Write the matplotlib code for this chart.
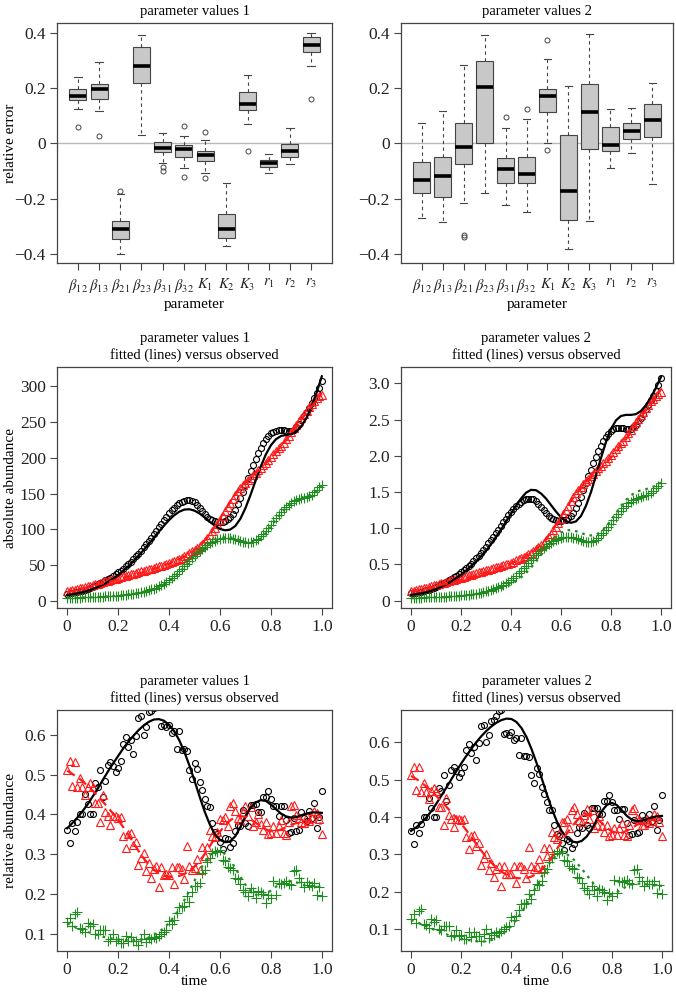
import numpy as np
import matplotlib.pyplot as plt

plt.rcParams['font.family'] = ['Liberation Serif', 'DejaVu Serif']
plt.rcParams['mathtext.fontset'] = 'stix'

# ---------------- boxplot data (relative error of parameter estimates) ----------------
param_labels = [r'$\beta_{12}$', r'$\beta_{13}$', r'$\beta_{21}$', r'$\beta_{23}$',
                r'$\beta_{31}$', r'$\beta_{32}$', r'$K_1$', r'$K_2$', r'$K_3$',
                r'$r_1$', r'$r_2$', r'$r_3$']

p1_q1 = [0.156, 0.159, -0.346, 0.220, -0.031, -0.050, -0.065, -0.340, 0.120, -0.084, -0.049, 0.332]
p1_med = [0.172, 0.198, -0.310, 0.280, -0.017, -0.020, -0.043, -0.310, 0.143, -0.071, -0.026, 0.357]
p1_q3 = [0.195, 0.214, -0.280, 0.348, 0.006, -0.007, -0.026, -0.256, 0.186, -0.059, -0.002, 0.384]
p1_lo = [0.123, 0.117, -0.400, 0.032, -0.072, -0.090, -0.106, -0.369, 0.070, -0.107, -0.074, 0.280]
p1_hi = [0.240, 0.294, -0.183, 0.392, 0.036, 0.026, 0.013, -0.143, 0.247, -0.037, 0.055, 0.399]
p1_out = [[0.059], [0.025], [-0.171], [], [-0.084, -0.098], [0.064, -0.123],
          [0.040, -0.125], [], [-0.026], [], [], [0.159]]

p2_q1 = [-0.178, -0.195, -0.074, 0.002, -0.142, -0.144, 0.113, -0.277, -0.019, -0.028, 0.016, 0.023]
p2_med = [-0.132, -0.118, -0.013, 0.204, -0.092, -0.111, 0.171, -0.171, 0.114, -0.005, 0.044, 0.085]
p2_q3 = [-0.067, -0.050, 0.072, 0.298, -0.053, -0.050, 0.198, 0.032, 0.213, 0.059, 0.072, 0.144]
p2_lo = [-0.271, -0.283, -0.217, -0.178, -0.222, -0.249, 0.002, -0.382, -0.279, -0.088, -0.035, -0.147]
p2_hi = [0.074, 0.117, 0.282, 0.393, 0.054, 0.088, 0.306, 0.209, 0.396, 0.126, 0.129, 0.220]
p2_out = [[], [], [-0.332, -0.339], [], [0.096], [0.125], [0.374, -0.023], [], [], [], [], []]

# ---------------- time series ----------------
t_obs = np.round(np.arange(101) * 0.01, 2)
t_fit = np.round(np.arange(51) * 0.02, 2)

# observed absolute abundance (parameter values 1 scale; panel 2 is the same data / 100)
abs_obs_black = [10, 10.5, 11, 11.7, 12.4, 13.2, 14.2, 15.3, 16.5, 17.9, 19.4, 21, 22.7, 24.5, 26.4,
                 28.3, 30.3, 32.4, 34.6, 37, 39.5, 42.2, 45, 48, 51.3, 54.7, 58.3, 62, 66, 70.2,
                 74.5, 79, 83.5, 88.2, 93, 98, 103, 108, 113, 117.8, 122.3, 126.5, 130.2, 133.5,
                 136.3, 138.5, 140, 140.8, 140.8, 139.8, 137.5, 134, 129.5, 125, 121, 117.5, 114.8,
                 112.8, 111.3, 110.5, 110.3, 110.8, 112, 114, 117, 121.5, 127.5, 135, 143.5, 152.5,
                 162, 171.5, 181, 190, 198.5, 206.5, 214, 220.5, 226, 230.5, 234, 236.5, 238, 238.8,
                 239, 238.5, 237.5, 237, 237.5, 239.5, 243, 247.5, 252.5, 258, 264, 270, 276.5, 283,
                 290, 298, 308]
abs_obs_red = [13, 14, 14.8, 15.6, 16.4, 17.3, 18.2, 19.1, 20, 21, 22, 23, 24, 25, 26, 27, 28, 29,
               30, 31, 32, 33, 34, 35, 36, 37, 38, 39, 40, 41, 42, 43, 44, 45, 46, 47, 48, 49, 50,
               51.2, 52.5, 54, 55.5, 57, 58.5, 60, 62, 64, 66.5, 69, 71.5, 74, 77, 80, 83.5, 87.5,
               92, 97, 102, 107.5, 113, 119, 125, 131, 137, 142.5, 148, 153, 157.5, 161.5, 165,
               168.5, 172, 175.5, 179, 182.5, 186, 189.5, 193, 197, 201, 205, 209, 213, 217, 221,
               226, 231, 236, 241, 246, 251, 256, 261, 266, 270.5, 275, 279, 283, 286, 288]
abs_obs_green = [4, 4, 4.1, 4.2, 4.3, 4.4, 4.5, 4.6, 4.7, 4.8, 5, 5.1, 5.3, 5.5, 5.7, 5.9, 6.1, 6.3,
                 6.6, 6.9, 7.2, 7.5, 7.9, 8.3, 8.8, 9.3, 9.9, 10.5, 11.2, 12, 12.8, 13.7, 14.7, 15.8,
                 17, 18.4, 20, 21.8, 23.8, 26, 28.5, 31.3, 34.3, 37.6, 41, 44.6, 48.3, 52, 55.7,
                 59.3, 62.8, 66.2, 69.4, 72.4, 75.2, 77.8, 80.2, 82.3, 84.2, 85.8, 87, 87.8, 88.2,
                 88.2, 87.8, 87, 86, 84.8, 83.5, 82.3, 81.5, 81.2, 81.5, 82.5, 84.3, 86.8, 90, 93.7,
                 97.8, 102, 106.5, 111, 115.5, 120, 124, 127.8, 131.2, 134.2, 136.8, 139, 140.8,
                 142.2, 143.3, 144.3, 145.3, 146.5, 148.5, 151.5, 155, 158.5, 162]
abs_scale = [1.0, 0.01]

# fitted absolute abundance
abs_fit1_black = [8, 9, 10.2, 11.8, 13.8, 16.2, 19, 22.3, 26.2, 30.7, 36, 41.8, 48.2, 55.2, 62.8,
                  70.8, 79.2, 87.8, 96.5, 105, 112.8, 119.5, 124.5, 127.5, 128, 126, 122, 116.5,
                  110.5, 105, 100.5, 98.5, 99.5, 104.5, 114.5, 129.5, 148, 168, 187.5, 204.5, 217.5,
                  226, 230.5, 232, 233, 236.5, 244, 256, 272, 291.5, 314]
abs_fit1_red = [12, 13.6, 15.3, 17, 18.8, 20.6, 22.4, 24.2, 26, 27.8, 29.7, 31.6, 33.6, 35.6, 37.7,
                39.8, 42, 44.3, 46.7, 49.2, 51.9, 54.8, 58, 61.6, 65.8, 70.8, 77, 84.5, 93.5, 104,
                115, 127, 138.5, 149, 158, 165.5, 172, 178.5, 185, 192, 199.5, 207.5, 216, 225,
                234.5, 244, 253.5, 263, 272, 280.5, 290]
abs_fit1_green = [3.8, 4, 4.2, 4.4, 4.6, 4.9, 5.2, 5.6, 6, 6.5, 7.1, 7.8, 8.7, 9.7, 11, 12.5, 14.4,
                  16.8, 19.8, 23.5, 28, 33.5, 40, 47, 54.5, 61.5, 68, 74, 79.5, 84, 87.3, 89, 88.8,
                  87, 84.3, 82, 81.3, 83, 87.5, 94.5, 103.5, 113, 122.5, 130.5, 137, 141.5, 144.3,
                  146, 148.5, 153, 160]
abs_fit2_black = [0.08, 0.09, 0.10, 0.115, 0.135, 0.16, 0.19, 0.225, 0.265, 0.31, 0.36, 0.415,
                  0.475, 0.54, 0.61, 0.69, 0.78, 0.88, 0.98, 1.09, 1.20, 1.31, 1.41, 1.49, 1.53,
                  1.525, 1.48, 1.41, 1.32, 1.23, 1.15, 1.095, 1.075, 1.095, 1.17, 1.31, 1.50, 1.73,
                  1.97, 2.19, 2.37, 2.49, 2.55, 2.565, 2.565, 2.575, 2.62, 2.70, 2.81, 2.94, 3.09]
abs_fit2_red = [0.13, 0.142, 0.155, 0.17, 0.185, 0.20, 0.217, 0.234, 0.251, 0.268, 0.286, 0.305,
                0.325, 0.346, 0.367, 0.389, 0.412, 0.436, 0.461, 0.487, 0.515, 0.545, 0.578, 0.615,
                0.658, 0.71, 0.775, 0.855, 0.95, 1.055, 1.165, 1.275, 1.38, 1.475, 1.56, 1.635, 1.70,
                1.765, 1.83, 1.90, 1.975, 2.055, 2.14, 2.23, 2.33, 2.43, 2.53, 2.63, 2.72, 2.82, 2.92]
abs_fit2_green = [0.035, 0.037, 0.039, 0.041, 0.043, 0.045, 0.048, 0.051, 0.055, 0.06, 0.065, 0.071,
                  0.078, 0.086, 0.096, 0.108, 0.122, 0.14, 0.162, 0.19, 0.225, 0.268, 0.32, 0.382,
                  0.455, 0.54, 0.632, 0.725, 0.81, 0.885, 0.94, 0.97, 0.975, 0.96, 0.935, 0.91, 0.9,
                  0.91, 0.95, 1.02, 1.11, 1.21, 1.31, 1.39, 1.455, 1.5, 1.525, 1.54, 1.56, 1.59, 1.63]

# observed relative abundance (same data in both bottom panels)
rel_obs_black = [0.362, 0.327, 0.379, 0.357, 0.381, 0.400, 0.401, 0.452, 0.425, 0.401, 0.401, 0.478,
                 0.470, 0.512, 0.443, 0.485, 0.525, 0.533, 0.522, 0.506, 0.517, 0.535, 0.578, 0.594,
                 0.570, 0.588, 0.552, 0.597, 0.642, 0.647, 0.601, 0.620, 0.657, 0.660, 0.669, 0.684,
                 0.685, 0.623, 0.625, 0.619, 0.626, 0.606, 0.611, 0.565, 0.610, 0.563, 0.564, 0.560,
                 0.513, 0.490, 0.530, 0.514, 0.481, 0.462, 0.440, 0.420, 0.419, 0.378, 0.355, 0.350,
                 0.331, 0.313, 0.340, 0.337, 0.318, 0.328, 0.358, 0.374, 0.371, 0.410, 0.378, 0.372,
                 0.424, 0.424, 0.425, 0.407, 0.407, 0.444, 0.444, 0.458, 0.440, 0.420, 0.420, 0.395,
                 0.422, 0.422, 0.385, 0.352, 0.355, 0.391, 0.357, 0.360, 0.405, 0.392, 0.383, 0.408,
                 0.390, 0.430, 0.366, 0.393, 0.458]
rel_obs_red = [0.512, 0.535, 0.472, 0.533, 0.468, 0.492, 0.468, 0.449, 0.470, 0.478, 0.470, 0.428,
               0.428, 0.380, 0.450, 0.405, 0.395, 0.373, 0.395, 0.396, 0.392, 0.394, 0.346, 0.315,
               0.350, 0.352, 0.322, 0.330, 0.272, 0.290, 0.302, 0.258, 0.278, 0.239, 0.262, 0.270,
               0.217, 0.268, 0.247, 0.249, 0.247, 0.268, 0.225, 0.268, 0.268, 0.262, 0.238, 0.320,
               0.270, 0.260, 0.266, 0.287, 0.260, 0.318, 0.296, 0.318, 0.360, 0.346, 0.342, 0.356,
               0.388, 0.386, 0.394, 0.372, 0.420, 0.428, 0.408, 0.392, 0.386, 0.405, 0.422, 0.395,
               0.418, 0.372, 0.380, 0.402, 0.375, 0.360, 0.380, 0.350, 0.352, 0.372, 0.352, 0.370,
               0.385, 0.352, 0.348, 0.380, 0.420, 0.423, 0.398, 0.392, 0.380, 0.378, 0.395, 0.384,
               0.390, 0.408, 0.403, 0.388, 0.350]
rel_obs_green = [0.128, 0.140, 0.118, 0.148, 0.153, 0.115, 0.112, 0.103, 0.127, 0.120, 0.125, 0.100,
                 0.098, 0.108, 0.110, 0.108, 0.082, 0.085, 0.098, 0.082, 0.085, 0.075, 0.075, 0.093,
                 0.080, 0.092, 0.082, 0.082, 0.070, 0.087, 0.100, 0.078, 0.090, 0.085, 0.092, 0.090,
                 0.095, 0.100, 0.105, 0.108, 0.132, 0.125, 0.135, 0.152, 0.167, 0.167, 0.170, 0.194,
                 0.180, 0.205, 0.220, 0.219, 0.228, 0.252, 0.260, 0.281, 0.290, 0.302, 0.308, 0.305,
                 0.310, 0.285, 0.283, 0.268, 0.265, 0.260, 0.240, 0.238, 0.225, 0.210, 0.205, 0.195,
                 0.215, 0.205, 0.190, 0.208, 0.205, 0.200, 0.178, 0.198, 0.190, 0.232, 0.198, 0.228,
                 0.226, 0.228, 0.232, 0.225, 0.222, 0.258, 0.260, 0.240, 0.230, 0.216, 0.230, 0.222,
                 0.220, 0.228, 0.198, 0.218, 0.195]

# fitted relative abundance
rel_fit1_black = [0.365, 0.378, 0.392, 0.408, 0.425, 0.445, 0.465, 0.487, 0.508, 0.528, 0.547,
                  0.566, 0.583, 0.598, 0.612, 0.624, 0.633, 0.639, 0.640, 0.636, 0.626, 0.610,
                  0.587, 0.558, 0.523, 0.485, 0.445, 0.407, 0.375, 0.350, 0.336, 0.330, 0.332,
                  0.345, 0.368, 0.395, 0.417, 0.430, 0.436, 0.434, 0.425, 0.413, 0.402, 0.395,
                  0.392, 0.393, 0.398, 0.402, 0.405, 0.405, 0.404]
rel_fit1_red = [0.510, 0.502, 0.494, 0.484, 0.472, 0.460, 0.446, 0.432, 0.418, 0.402, 0.386, 0.368,
                0.349, 0.329, 0.308, 0.290, 0.274, 0.261, 0.251, 0.245, 0.243, 0.243, 0.245, 0.250,
                0.258, 0.269, 0.283, 0.300, 0.320, 0.340, 0.357, 0.372, 0.385, 0.393, 0.396, 0.394,
                0.388, 0.379, 0.370, 0.362, 0.358, 0.358, 0.362, 0.368, 0.374, 0.378, 0.380, 0.380,
                0.379, 0.378, 0.377]
rel_fit1_green = [0.125, 0.120, 0.114, 0.109, 0.104, 0.100, 0.096, 0.092, 0.089, 0.087, 0.085,
                  0.084, 0.083, 0.083, 0.084, 0.086, 0.090, 0.096, 0.104, 0.114, 0.127, 0.143,
                  0.162, 0.184, 0.208, 0.233, 0.258, 0.280, 0.297, 0.307, 0.308, 0.300, 0.285,
                  0.265, 0.243, 0.223, 0.207, 0.198, 0.195, 0.199, 0.208, 0.218, 0.226, 0.231,
                  0.232, 0.229, 0.224, 0.219, 0.217, 0.217, 0.219]
rel_fit2_black = [0.363, 0.372, 0.384, 0.398, 0.415, 0.435, 0.456, 0.478, 0.500, 0.522, 0.543,
                  0.563, 0.582, 0.600, 0.616, 0.630, 0.642, 0.652, 0.659, 0.663, 0.662, 0.654,
                  0.638, 0.614, 0.582, 0.545, 0.505, 0.463, 0.424, 0.390, 0.363, 0.345, 0.335,
                  0.332, 0.336, 0.348, 0.367, 0.392, 0.416, 0.432, 0.438, 0.432, 0.418, 0.403,
                  0.393, 0.389, 0.390, 0.394, 0.399, 0.402, 0.403]
rel_fit2_red = [0.510, 0.502, 0.493, 0.482, 0.470, 0.457, 0.443, 0.428, 0.413, 0.398, 0.382, 0.365,
                0.347, 0.328, 0.310, 0.293, 0.278, 0.265, 0.254, 0.246, 0.240, 0.237, 0.236, 0.237,
                0.241, 0.248, 0.259, 0.274, 0.292, 0.313, 0.334, 0.355, 0.374, 0.390, 0.401, 0.406,
                0.404, 0.396, 0.384, 0.371, 0.362, 0.357, 0.358, 0.363, 0.371, 0.379, 0.386, 0.390,
                0.392, 0.391, 0.389]
rel_fit2_green = [0.125, 0.120, 0.114, 0.108, 0.102, 0.097, 0.092, 0.087, 0.082, 0.078, 0.075,
                  0.072, 0.070, 0.068, 0.067, 0.068, 0.071, 0.077, 0.086, 0.097, 0.110, 0.126,
                  0.145, 0.167, 0.191, 0.216, 0.241, 0.264, 0.284, 0.298, 0.304, 0.301, 0.292,
                  0.278, 0.262, 0.245, 0.228, 0.212, 0.200, 0.193, 0.193, 0.199, 0.207, 0.215,
                  0.220, 0.222, 0.222, 0.220, 0.218, 0.217, 0.216]

time_ticks = [0, 0.2, 0.4, 0.6, 0.8, 1.0]
time_labels = ['0', '0.2', '0.4', '0.6', '0.8', '1.0']
err_ticks = [-0.4, -0.2, 0, 0.2, 0.4]
err_labels = ['\u22120.4', '\u22120.2', '0', '0.2', '0.4']
abs1_ticks = [0, 50, 100, 150, 200, 250, 300]
abs1_labels = ['0', '50', '100', '150', '200', '250', '300']
abs2_ticks = [0, 0.5, 1.0, 1.5, 2.0, 2.5, 3.0]
abs2_labels = ['0', '0.5', '1.0', '1.5', '2.0', '2.5', '3.0']
rel_ticks = [0.1, 0.2, 0.3, 0.4, 0.5, 0.6]
rel_labels = ['0.1', '0.2', '0.3', '0.4', '0.5', '0.6']

BLACK, RED, GREEN = 'black', '#ff1a1a', '#1e8c1e'
EDGE = '#444444'
TITLE_FS, LABEL_FS, TICK_FS, PARAM_FS = 10.5, 11, 12.5, 10.5

W, H = 676, 993
def box(x0, y0, x1, y1):
    return [x0 / W, 1 - y1 / H, (x1 - x0) / W, (y1 - y0) / H]

fig = plt.figure(figsize=(W / 100, H / 100), dpi=100)

def style(ax):
    for s in ax.spines.values():
        s.set_color(EDGE)
        s.set_linewidth(0.9)
    ax.tick_params(direction='out', length=5, width=0.8, color=EDGE, pad=3,
                   labelsize=TICK_FS, labelcolor='#222222')

def boxpanel(rect, q1, med, q3, lo, hi, out, title, ylabel=None):
    ax = fig.add_axes(box(*rect))
    stats = [dict(q1=a, med=b, q3=c, whislo=d, whishi=e, fliers=f)
             for a, b, c, d, e, f in zip(q1, med, q3, lo, hi, out)]
    ax.axhline(0, color='#b8b8b8', lw=1, zorder=0)
    ax.bxp(stats, positions=range(1, 13), widths=0.8, capwidths=0.35, patch_artist=True,
           boxprops=dict(facecolor='#c8c8c8', edgecolor=EDGE, lw=0.8),
           medianprops=dict(color='black', lw=2.6, solid_capstyle='butt'),
           whiskerprops=dict(color=EDGE, lw=0.8, ls=(0, (3, 3))),
           capprops=dict(color=EDGE, lw=0.8),
           flierprops=dict(marker='o', mfc='none', mec=EDGE, ms=3.6, mew=0.7))
    ax.set_xlim(0.02, 12.98)
    ax.set_ylim(-0.432, 0.435)
    ax.set_xticks(range(1, 13))
    ax.set_yticks(err_ticks)
    ax.set_yticklabels(err_labels)
    style(ax)
    ax.tick_params(axis='x', pad=5)
    ax.set_xticklabels(param_labels, fontsize=PARAM_FS)
    ax.set_title(title, fontsize=TITLE_FS, pad=6)
    ax.set_xlabel('parameter', fontsize=LABEL_FS, labelpad=2)
    if ylabel:
        ax.set_ylabel(ylabel, fontsize=LABEL_FS)
        ax.yaxis.set_label_coords(-0.145, 0.5)
    return ax

def seriespanel(rect, obs, fits, scale, ylim, yt, ytl, title, ylabel=None, xlabel=None):
    ax = fig.add_axes(box(*rect))
    marks = [('o', 4.3), ('^', 5.4), ('+', 6.5)]
    cols = [BLACK, RED, GREEN]
    lss = ['-', (0, (4, 2.5)), (0, (1.2, 2.2))]
    for y, (m, ms), c in zip(obs, marks, cols):
        ax.plot(t_obs, np.asarray(y) * scale, ls='none', marker=m, ms=ms,
                mfc='none', mec=c, mew=0.8)
    for y, c, ls in zip(fits, cols, lss):
        ax.plot(t_fit, y, color=c, ls=ls, lw=1.6)
    ax.set_xlim(-0.04, 1.04)
    ax.set_ylim(*ylim)
    ax.set_xticks(time_ticks)
    ax.set_xticklabels(time_labels)
    ax.set_yticks(yt)
    ax.set_yticklabels(ytl)
    style(ax)
    ax.set_title(title, fontsize=TITLE_FS, pad=6, linespacing=1.25)
    if ylabel:
        ax.set_ylabel(ylabel, fontsize=LABEL_FS)
        ax.yaxis.set_label_coords(-0.145, 0.5)
    if xlabel:
        ax.set_xlabel(xlabel, fontsize=LABEL_FS, labelpad=-2)
    return ax

boxpanel((57, 23, 332, 263), p1_q1, p1_med, p1_q3, p1_lo, p1_hi, p1_out,
         'parameter values 1', 'relative error')
boxpanel((401, 23, 673, 263), p2_q1, p2_med, p2_q3, p2_lo, p2_hi, p2_out,
         'parameter values 2')

obs_abs = [abs_obs_black, abs_obs_red, abs_obs_green]
seriespanel((57, 367, 332, 608), obs_abs, [abs_fit1_black, abs_fit1_red, abs_fit1_green],
            abs_scale[0], (-10.2, 327), abs1_ticks, abs1_labels,
            'parameter values 1\nfitted (lines) versus observed', 'absolute abundance')
seriespanel((401, 367, 671, 608), obs_abs, [abs_fit2_black, abs_fit2_red, abs_fit2_green],
            abs_scale[1], (-0.101, 3.226), abs2_ticks, abs2_labels,
            'parameter values 2\nfitted (lines) versus observed')

obs_rel = [rel_obs_black, rel_obs_red, rel_obs_green]
seriespanel((57, 710, 332, 951), obs_rel, [rel_fit1_black, rel_fit1_red, rel_fit1_green],
            1.0, (0.056, 0.663), rel_ticks, rel_labels,
            'parameter values 1\nfitted (lines) versus observed', 'relative abundance', 'time')
seriespanel((401, 710, 672, 951), obs_rel, [rel_fit2_black, rel_fit2_red, rel_fit2_green],
            1.0, (0.042, 0.686), rel_ticks, rel_labels,
            'parameter values 2\nfitted (lines) versus observed', None, 'time')

fig.savefig('out.png', dpi=100)
